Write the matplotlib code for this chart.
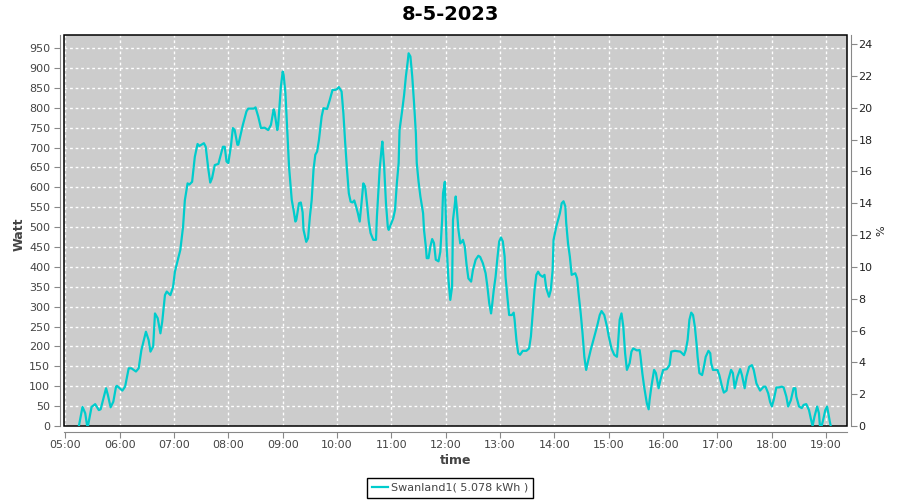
import pandas as pd
import matplotlib
matplotlib.use("Agg")
import matplotlib.pyplot as plt
import matplotlib.dates as mdates
from matplotlib.patches import Rectangle

# Power readings for the day (time of day, watt)
times = [
    "05:15", "05:19", "05:22", "05:24", "05:25", "05:29", "05:33", "05:37", "05:39", "05:45",
    "05:47", "05:50", "05:53", "05:56", "05:57", "06:03", "06:06", "06:10", "06:13", "06:18",
    "06:21", "06:24", "06:29", "06:32", "06:34", "06:37", "06:39", "06:42", "06:45", "06:47",
    "06:50", "06:52", "06:56", "06:59", "07:01", "07:07", "07:10", "07:12", "07:15", "07:17",
    "07:20", "07:23", "07:26", "07:28", "07:33", "07:35", "07:38", "07:40", "07:42", "07:45",
    "07:49", "07:54", "07:56", "07:58", "08:00", "08:03", "08:05", "08:07", "08:10", "08:11",
    "08:16", "08:20", "08:22", "08:28", "08:30", "08:33", "08:36", "08:40", "08:44", "08:47",
    "08:50", "08:51", "08:54", "08:55", "08:58", "09:00", "09:01", "09:03", "09:05", "09:07",
    "09:10", "09:12", "09:14", "09:15", "09:18", "09:20", "09:22", "09:23", "09:26", "09:28",
    "09:30", "09:32", "09:34", "09:36", "09:38", "09:40", "09:43", "09:45", "09:49", "09:52",
    "09:55", "09:58", "10:00", "10:02", "10:05", "10:07", "10:09", "10:11", "10:13", "10:15",
    "10:17", "10:19", "10:21", "10:23", "10:25", "10:27", "10:29", "10:31", "10:33", "10:35",
    "10:37", "10:40", "10:43", "10:44", "10:47", "10:49", "10:50", "10:52", "10:54", "10:56",
    "10:57", "11:00", "11:02", "11:04", "11:06", "11:08", "11:09", "11:12", "11:14", "11:16",
    "11:18", "11:19", "11:21", "11:23", "11:25", "11:27", "11:28", "11:30", "11:32", "11:35",
    "11:36", "11:38", "11:39", "11:41", "11:43", "11:45", "11:47", "11:49", "11:52", "11:54",
    "11:56", "11:57", "11:59", "12:01", "12:03", "12:05", "12:07", "12:08", "12:11", "12:12",
    "12:14", "12:16", "12:18", "12:19", "12:21", "12:23", "12:25", "12:28", "12:30", "12:33",
    "12:36", "12:38", "12:41", "12:44", "12:46", "12:48", "12:50", "12:51", "12:53", "12:55",
    "12:57", "12:59", "13:01", "13:03", "13:05", "13:06", "13:08", "13:10", "13:13", "13:15",
    "13:16", "13:18", "13:20", "13:22", "13:25", "13:29", "13:32", "13:34", "13:36", "13:38",
    "13:40", "13:42", "13:44", "13:47", "13:49", "13:51", "13:54", "13:56", "13:58", "13:59",
    "14:02", "14:04", "14:06", "14:08", "14:10", "14:12", "14:13", "14:15", "14:17", "14:19",
    "14:22", "14:23", "14:25", "14:27", "14:29", "14:31", "14:33", "14:35", "14:37", "14:40",
    "14:43", "14:47", "14:50", "14:52", "14:55", "14:58", "15:00", "15:03", "15:06", "15:09",
    "15:10", "15:12", "15:14", "15:16", "15:18", "15:20", "15:23", "15:25", "15:27", "15:31",
    "15:34", "15:35", "15:37", "15:39", "15:42", "15:44", "15:45", "15:47", "15:50", "15:52",
    "15:55", "15:57", "16:00", "16:04", "16:07", "16:09", "16:13", "16:19", "16:23", "16:25",
    "16:27", "16:29", "16:31", "16:33", "16:35", "16:37", "16:38", "16:40", "16:43", "16:45",
    "16:47", "16:50", "16:52", "16:53", "16:55", "17:00", "17:02", "17:05", "17:07", "17:10",
    "17:12", "17:15", "17:17", "17:19", "17:22", "17:25", "17:27", "17:30", "17:32", "17:35",
    "17:38", "17:40", "17:43", "17:47", "17:51", "17:53", "17:56", "17:58", "18:00", "18:02",
    "18:05", "18:08", "18:11", "18:13", "18:16", "18:18", "18:21", "18:24", "18:26", "18:27",
    "18:30", "18:33", "18:35", "18:38", "18:41", "18:43", "18:45", "18:47", "18:49", "18:50",
    "18:52", "18:53", "18:55", "18:57", "18:59", "19:01", "19:02", "19:04", "19:05",
]
watts = [
    0, 48, 32, 2, 0, 48, 55, 40, 42, 95,
    78, 47, 61, 99, 101, 89, 99, 145, 145, 137,
    145, 191, 237, 216, 187, 200, 283, 271, 233, 262,
    329, 338, 329, 350, 388, 443, 501, 568, 610, 607,
    614, 677, 709, 704, 711, 702, 644, 612, 623, 656,
    659, 702, 702, 665, 661, 707, 749, 744, 707, 707,
    757, 791, 798, 798, 801, 778, 749, 750, 744, 757,
    796, 789, 744, 757, 853, 891, 883, 837, 744, 652,
    568, 543, 514, 518, 560, 562, 537, 493, 463, 472,
    526, 568, 644, 682, 690, 719, 778, 799, 797, 820,
    845, 845, 847, 852, 841, 786, 711, 644, 585, 564,
    562, 567, 552, 535, 514, 560, 610, 602, 560, 514,
    485, 468, 468, 526, 644, 694, 715, 652, 560, 501,
    493, 510, 522, 543, 610, 661, 744, 795, 832, 879,
    916, 937, 929, 879, 812, 736, 661, 614, 577, 535,
    493, 451, 422, 422, 451, 470, 460, 418, 414, 438,
    518, 585, 614, 451, 367, 317, 350, 518, 577, 552,
    493, 459, 464, 468, 451, 405, 371, 363, 392, 418,
    428, 425, 409, 384, 350, 309, 283, 300, 342, 375,
    422, 464, 474, 464, 426, 375, 325, 279, 279, 285,
    267, 216, 183, 179, 189, 189, 195, 225, 283, 342,
    380, 388, 380, 375, 380, 346, 325, 342, 392, 468,
    501, 518, 535, 560, 565, 552, 510, 459, 426, 380,
    383, 384, 371, 325, 283, 233, 174, 141, 162, 191,
    216, 250, 279, 289, 279, 250, 225, 195, 179, 174,
    200, 267, 283, 250, 183, 141, 158, 187, 195, 190,
    191, 175, 133, 99, 57, 42, 65, 99, 141, 133,
    95, 116, 141, 143, 153, 187, 189, 187, 178, 191,
    216, 267, 285, 279, 250, 204, 174, 133, 128, 149,
    174, 189, 183, 158, 141, 141, 128, 99, 84, 89,
    116, 141, 133, 95, 124, 143, 128, 95, 124, 149,
    153, 141, 107, 89, 99, 99, 82, 61, 49, 65,
    97, 97, 99, 97, 74, 49, 65, 95, 95, 74,
    49, 45, 53, 55, 40, 19, 0, 23, 40, 49,
    32, 2, 0, 19, 40, 49, 36, 11, 0,
]
day = "2023-05-08"
series_label = "Swanland1( 5.078 kWh )"

t = pd.to_datetime([day + " " + s for s in times])

fig = plt.figure(figsize=(9, 5), dpi=100)
ax = fig.add_axes([64 / 900, 74 / 500, 782.7 / 900, 391 / 500])
ax.set_facecolor("#cccccc")

ax.plot(t, watts, color="#00cccc", linewidth=1.6, label=series_label, zorder=3)

# black frame round the plot area, drawn over the grid
ax.add_patch(Rectangle((0, 0), 1, 1, transform=ax.transAxes, fill=False,
                       edgecolor="black", linewidth=1.1, zorder=2.5, clip_on=False))

ax.set_xlim(pd.Timestamp(day + " 04:58:34"), pd.Timestamp(day + " 19:22:38"))
ax.set_ylim(0, 983)
ax.set_yticks(range(0, 951, 50))
ax.xaxis.set_major_locator(mdates.HourLocator(byhour=range(5, 20)))
ax.xaxis.set_major_formatter(mdates.DateFormatter("%H:%M"))
ax.grid(True, color="white", linestyle=(0, (2, 2)), linewidth=1)

# axis lines sit a little outside the plot frame
for side in ["top", "right"]:
    ax.spines[side].set_visible(False)
ax.spines["left"].set_position(("outward", 3))
ax.spines["bottom"].set_position(("outward", 4))
for side in ["left", "bottom"]:
    ax.spines[side].set_color("#888888")
ax.tick_params(axis="y", direction="out", length=4, color="#888888",
               labelsize=8, labelcolor="#444444", pad=3)
ax.tick_params(axis="x", direction="out", length=4, color="#888888",
               labelsize=8, labelcolor="#444444", pad=2)

ax2 = ax.twinx()
ax2.set_ylim(0, 983 / 40)
ax2.set_yticks(range(0, 25, 2))
for side in ["top", "left", "bottom"]:
    ax2.spines[side].set_visible(False)
ax2.spines["right"].set_position(("outward", 3))
ax2.spines["right"].set_color("#888888")
ax2.tick_params(axis="y", direction="out", length=4, color="#888888",
                labelsize=8, labelcolor="#222222", pad=1.5)

ax.set_ylabel("Watt", fontsize=9, fontweight="bold", color="#444444")
ax.yaxis.set_label_coords(-0.0486, 0.49)
ax2.set_ylabel("%", fontsize=8, color="#222222")
ax2.yaxis.set_label_coords(1.0374, 0.5)
ax.set_xlabel("time", fontsize=9, fontweight="bold", color="#444444")
ax.xaxis.set_label_coords(0.5, -0.072)

fig.text(0.5, 1 - 14 / 500, "8-5-2023", ha="center", va="center",
         fontsize=14, fontweight="bold")

leg = fig.legend(loc="center", bbox_to_anchor=(0.5, 1 - 487.5 / 500), fontsize=8,
                 frameon=True, fancybox=False, edgecolor="black", framealpha=1,
                 handlelength=1.45, handletextpad=0.25, borderpad=0.45,
                 borderaxespad=0)
leg.get_frame().set_linewidth(1)
for txt in leg.get_texts():
    txt.set_color("#444444")

fig.savefig("out.png", dpi=100)
